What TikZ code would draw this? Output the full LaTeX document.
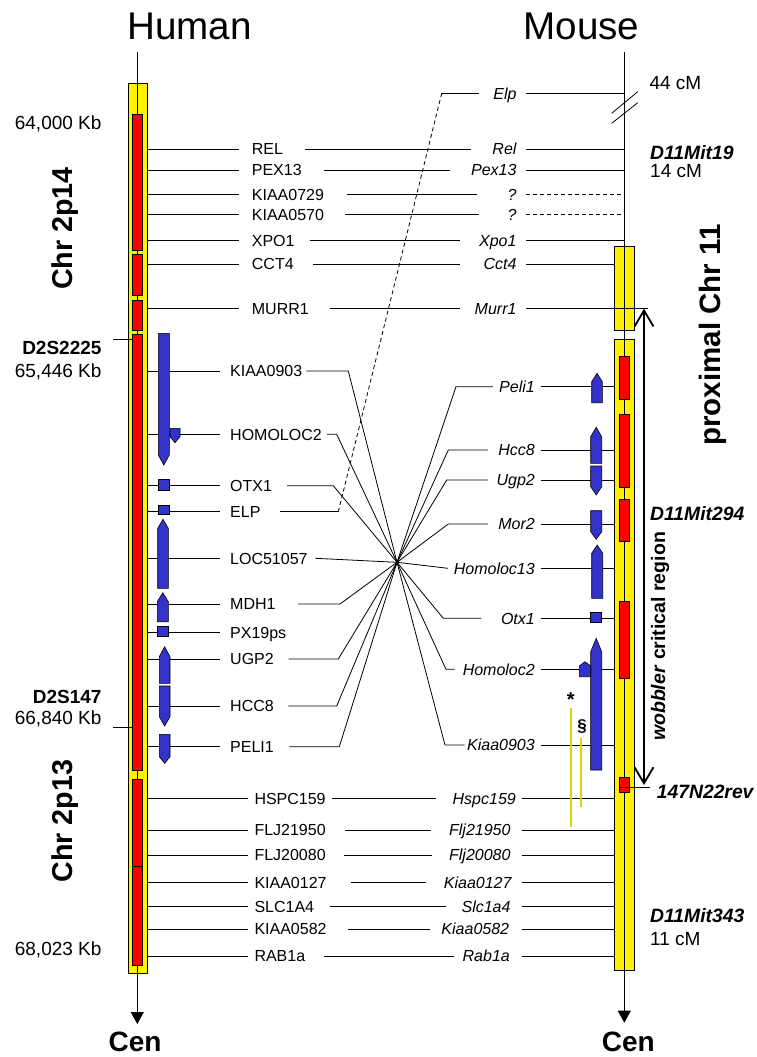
\documentclass[tikz,border=0pt]{standalone}
\usepackage{fontspec}
\setmainfont{Liberation Sans}
\usetikzlibrary{arrows.meta}
\definecolor{genefill}{RGB}{51,51,204}
\definecolor{markyellow}{RGB}{222,212,0}
\newcommand\hleft[2]{\draw[conn] (hchr.east |- #1.west) -- ([xshift=-#2pt]#1.west);}
\newcommand\midline[4]{\draw[conn] ([xshift=#2pt]#1.east) -- ([xshift=-#4pt]#3.west);}
\newcommand\mright[3]{\draw[conn] ([xshift=#2pt]#1.east) -- (#3 |- #1.east);}
\newcommand\geneU[5]{\filldraw[gene] (#1,#5) -- (#1,#4) -- ({(#1+#2)/2},#3) -- (#2,#4) -- (#2,#5) -- cycle;}
\newcommand\geneD[5]{\filldraw[gene] (#1,#3) -- (#2,#3) -- (#2,#4) -- ({(#1+#2)/2},#5) -- (#1,#4) -- cycle;}
\newcommand\geneR[4]{\filldraw[gene] (#1,#2) rectangle (#3,#4);}
\begin{document}
\begin{tikzpicture}[x=1pt,y=-1pt,
  conn/.style={line width=0.8pt, black},
  hlab/.style={inner sep=0pt, anchor=west, text height=11.46pt, text depth=0pt, font=\fontsize{16}{19}\selectfont},
  mlab/.style={hlab, anchor=east, font=\fontsize{16}{19}\selectfont\itshape},
  sidelab/.style={inner sep=0pt, text height=13.6pt, text depth=0pt, font=\fontsize{19}{22}\selectfont},
  sidebold/.style={sidelab, font=\fontsize{19}{22}\selectfont\bfseries},
  sidebi/.style={sidelab, font=\fontsize{19.3}{22}\selectfont\bfseries\itshape},
  ybox/.style={draw=black, fill=yellow, line width=0.8pt, inner sep=0pt},
  rbox/.style={draw=black, fill=red, line width=0.7pt},
  gene/.style={draw=black, fill=genefill, line width=0.6pt},
  ymark/.style={draw=markyellow, line width=2.4pt},
  chrlab/.style={rotate=90, anchor=base, inner sep=0pt, font=\fontsize{28.7}{32}\selectfont\bfseries},
  cenlab/.style={anchor=base, inner sep=0pt, font=\fontsize{28}{32}\selectfont\bfseries},
  title/.style={anchor=base, inner sep=0pt, font=\fontsize{38.6}{44}\selectfont}]
\useasboundingbox (0,0) rectangle (756,1057);

% titles
\node[title] (thuman) at (189.5,39.3) {Human};
\node[title] (tmouse) at (581.5,39.3) {Mouse};

% ---------------- human chromosome ----------------
\node[ybox, minimum width=19.3pt, minimum height=889.4pt, anchor=north west] (hchr) at (127.7,83.3) {};
\coordinate (htop) at (137.3,52);
\coordinate (hbot) at (137.3,1024);
\draw[conn, -{Triangle[length=12pt,width=13pt]}] (htop) -- (hbot);
\draw[conn] (113.3,339) -- (132.3,339);
\draw[conn] (113.3,727.7) -- (132.3,727.7);
\foreach \a/\b in {114/250, 254/295, 300.7/330, 334/770, 779/866.7, 866.7/965}
  \path[rbox] (132.3,\a) rectangle (142.7,\b);
\node[cenlab] (hcen) at (135,1051.7) {Cen};

% human side labels
\node[sidelab, anchor=east] (kb64) at (101.7,122.7) {64,000 Kb};
\node[sidebold, anchor=east] (d2s2225) at (101.7,347.8) {D2S2225};
\node[sidelab, anchor=east] (kb65) at (101.7,370.3) {65,446 Kb};
\node[sidebold, anchor=east] (d2s147) at (101.7,697) {D2S147};
\node[sidelab, anchor=east] (kb66) at (101.7,717.5) {66,840 Kb};
\node[sidelab, anchor=east] (kb68) at (101.7,948.8) {68,023 Kb};
\node[chrlab] (c2p14) at (72,228.5) {Chr 2p14};
\node[chrlab] (c2p13) at (72,821) {Chr 2p13};

% ---------------- mouse chromosome ----------------
\node[ybox, minimum width=20pt, minimum height=84pt, anchor=north west] (mchrA) at (614.3,246) {};
\node[ybox, minimum width=20pt, minimum height=630.7pt, anchor=north west] (mchrB) at (614.3,339.3) {};
\coordinate (mtop) at (624.3,52);
\coordinate (mbot) at (624.3,1022.7);
\draw[conn, -{Triangle[length=12pt,width=13pt]}] (mtop) -- (mbot);
\draw[conn] (611.7,113.3) -- (637.7,91.7);
\draw[conn] (611.7,123.3) -- (637.7,102.7);
\foreach \a/\b in {356/399.3, 414.3/487.3, 499/541, 601.7/678.3, 777.7/792.3}
  \path[rbox] (619.3,\a) rectangle (629.7,\b);
\node[cenlab] (mcen) at (628.3,1051.7) {Cen};

% mouse side labels
\node[sidelab, anchor=west] (cm44) at (649.3,83) {44 cM};
\node[sidebi, anchor=west] (mit19) at (650,152.7) {D11Mit19};
\node[sidelab, anchor=west] (cm14) at (650,170.7) {14 cM};
\node[sidebi, anchor=west] (mit294) at (650,513.3) {D11Mit294};
\node[sidebi, anchor=west] (mit343) at (650,916) {D11Mit343};
\node[sidelab, anchor=west] (cm11) at (650,938.3) {11 cM};
\node[sidebi, anchor=west] (n147) at (656.7,791.7) {147N22rev};
\coordinate (b147a) at (619.3,787);
\coordinate (b147b) at (650,787);
\draw[conn] (b147a) -- (b147b);
\node[chrlab, font=\fontsize{29.5}{32}\selectfont\bfseries] (proxchr) at (720,335) {proximal Chr 11};
\node[rotate=90, anchor=base, inner sep=0pt, font=\fontsize{19.5}{22}\selectfont\bfseries] (wobbler) at (665,636.5) {\textit{wobbler} critical region};
\coordinate (crtop) at (644,308.7);
\coordinate (crbot) at (644,785);
\draw[line width=1.8pt, {Straight Barb[length=16pt,width=19pt]}-{Straight Barb[length=16pt,width=19pt]}] (crtop) -- (crbot);

% ---------------- top rows ----------------
\node[hlab] (hREL) at (251.7,149) {REL};
\node[hlab] (hPEX) at (251.7,170) {PEX13};
\node[hlab] (hK729) at (251.7,194.3) {KIAA0729};
\node[hlab] (hK570) at (251.7,214.3) {KIAA0570};
\node[hlab] (hXPO) at (251.7,240.3) {XPO1};
\node[hlab] (hCCT) at (251.7,264) {CCT4};
\node[hlab] (hMURR) at (251.7,308.7) {MURR1};
\node[mlab] (mElp) at (516.7,93.3) {Elp};
\node[mlab] (mRel) at (516.7,149) {Rel};
\node[mlab] (mPex) at (516.7,170) {Pex13};
\node[mlab] (mQ1) at (516.7,194.3) {?};
\node[mlab] (mQ2) at (516.7,214.3) {?};
\node[mlab] (mXpo) at (516.7,240.3) {Xpo1};
\node[mlab] (mCct) at (516.7,264) {Cct4};
\node[mlab] (mMurr) at (516.7,308.7) {Murr1};
\coordinate (murrend) at (648,308.7);

\hleft{hREL}{12.4} \hleft{hPEX}{12.4} \hleft{hK729}{12.4} \hleft{hK570}{12.4}
\hleft{hXPO}{12.4} \hleft{hCCT}{12.4} \hleft{hMURR}{12.4}
\midline{hREL}{22.2}{mRel}{21}
\midline{hPEX}{21.8}{mPex}{21.3}
\midline{hK729}{23}{mQ1}{30.5}
\midline{hK570}{20.6}{mQ2}{28.5}
\midline{hXPO}{14.9}{mXpo}{19.3}
\midline{hCCT}{19.2}{mCct}{23.8}
\midline{hMURR}{20.7}{mMurr}{14.9}
\mright{mElp}{9.3}{mtop}
\mright{mRel}{9.3}{mtop}
\mright{mPex}{9.3}{mtop}
\draw[conn, dash pattern=on 4pt off 3pt] ([xshift=9.3pt]mQ1.east) -- (mtop |- mQ1.east);
\draw[conn, dash pattern=on 4pt off 3pt] ([xshift=9.3pt]mQ2.east) -- (mtop |- mQ2.east);
\mright{mXpo}{9.3}{mtop}
\mright{mCct}{9.3}{mchrA.west}
\draw[conn] ([xshift=9.3pt]mMurr.east) -- (murrend);

% ---------------- crossing rows ----------------
\node[hlab] (hK903) at (230,371) {KIAA0903};
\node[hlab] (hHOM) at (230,434.3) {HOMOLOC2};
\node[hlab] (hOTX) at (230,485.7) {OTX1};
\node[hlab] (hELP) at (230,511.7) {ELP};
\node[hlab] (hLOC) at (230,558.3) {LOC51057};
\node[hlab] (hMDH) at (230,604) {MDH1};
\node[hlab] (hPX) at (230,632.3) {PX19ps};
\node[hlab] (hUGP) at (230,659) {UGP2};
\node[hlab] (hHCC) at (230,706) {HCC8};
\node[hlab] (hPELI) at (230,746.7) {PELI1};
\foreach \n in {hK903,hHOM,hOTX,hELP,hLOC,hMDH,hPX,hUGP,hHCC,hPELI} {\hleft{\n}{10}}

\node[mlab] (mPeli) at (535,386.7) {Peli1};
\node[mlab] (mHcc) at (535,450) {Hcc8};
\node[mlab] (mUgp) at (535,480) {Ugp2};
\node[mlab] (mMor) at (535,524) {Mor2};
\node[mlab] (mH13) at (535,568.3) {Homoloc13};
\node[mlab] (mOtx) at (535,618.3) {Otx1};
\node[mlab] (mH2) at (535,669.3) {Homoloc2};
\node[mlab] (mK903) at (535,745) {Kiaa0903};
\foreach \n in {mPeli,mHcc,mUgp,mMor,mH13,mOtx,mH2,mK903} {\mright{\n}{5.7}{mchrB.west}}

\coordinate (ctr) at (397,562.3);
\coordinate (bK903) at (348.3,371);   \coordinate (cK903) at (445,745);
\coordinate (bHOM) at (336.7,434.3);  \coordinate (cH2) at (446,669.3);
\coordinate (bOTX) at (333.3,485.7);  \coordinate (cOtx) at (443.3,618.3);
\coordinate (bMDH) at (340,604);      \coordinate (cMor) at (448.3,524);
\coordinate (bUGP) at (338.3,659);    \coordinate (cUgp) at (446.7,480);
\coordinate (bHCC) at (336.7,706);    \coordinate (cHcc) at (448.3,450);
\coordinate (bPELI) at (339.3,746.7); \coordinate (cPeli) at (456,386.7);
\coordinate (elpA) at (338.3,511.7);  \coordinate (elpB) at (441.7,93.3);

\draw[conn] ([xshift=4pt]hK903.east) -- (bK903) -- (ctr) -- (cK903) -- ([xshift=-2.4pt]mK903.west);
\draw[conn] ([xshift=5.1pt]hHOM.east) -- (bHOM) -- (ctr) -- (cH2) -- ([xshift=-8pt]mH2.west);
\draw[conn] ([xshift=14.9pt]hOTX.east) -- (bOTX) -- (ctr) -- (cOtx) -- ([xshift=-19.5pt]mOtx.west);
\draw[conn] ([xshift=7.6pt]hLOC.east) -- (ctr) -- ([xshift=-5.8pt]mH13.west);
\draw[conn] ([xshift=22.4pt]hMDH.east) -- (bMDH) -- (ctr) -- (cMor) -- ([xshift=-10.3pt]mMor.west);
\draw[conn] ([xshift=14.7pt]hUGP.east) -- (bUGP) -- (ctr) -- (cUgp) -- ([xshift=-8.5pt]mUgp.west);
\draw[conn] ([xshift=14.4pt]hHCC.east) -- (bHCC) -- (ctr) -- (cHcc) -- ([xshift=-10.3pt]mHcc.west);
\draw[conn] ([xshift=15.4pt]hPELI.east) -- (bPELI) -- (ctr) -- (cPeli) -- ([xshift=-6.1pt]mPeli.west);
\draw[conn] ([xshift=19.1pt]hELP.east) -- (elpA);
\draw[conn, dash pattern=on 4pt off 3pt] (elpA) -- (elpB);
\draw[conn] (elpB) -- ([xshift=-14.3pt]mElp.west);

% ---------------- lower rows ----------------
\node[hlab] (hHSPC) at (254.3,798.3) {HSPC159};
\node[hlab] (hF219) at (254.3,830) {FLJ21950};
\node[hlab] (hF200) at (254.3,855) {FLJ20080};
\node[hlab] (hK127) at (254.3,882.3) {KIAA0127};
\node[hlab] (hSLC) at (254.3,906.7) {SLC1A4};
\node[hlab] (hK582) at (254.3,929) {KIAA0582};
\node[hlab] (hRAB) at (254.3,956) {RAB1a};
\foreach \n in {hHSPC,hF219,hF200,hK127,hSLC,hK582,hRAB} {\hleft{\n}{6}}
\node[mlab] (mHspc) at (516,798.3) {Hspc159};
\node[mlab] (mF219) at (510.7,830) {Flj21950};
\node[mlab] (mF200) at (510.7,855) {Flj20080};
\node[mlab] (mK127) at (511.7,882.3) {Kiaa0127};
\node[mlab] (mSlc) at (510.7,906.7) {Slc1a4};
\node[mlab] (mK582) at (509.3,929) {Kiaa0582};
\node[mlab] (mRab) at (510,956) {Rab1a};
\midline{hHSPC}{6.3}{mHspc}{16.9}
\midline{hF219}{19.5}{mF219}{17.6}
\midline{hF200}{17.8}{mF200}{17}
\midline{hK127}{24.4}{mK127}{18.1}
\midline{hSLC}{15.4}{mSlc}{15.1}
\midline{hK582}{21}{mK582}{11.7}
\midline{hRAB}{18.3}{mRab}{8.9}
\mright{mHspc}{5.7}{mchrB.west}
\mright{mF219}{11}{mchrB.west}
\mright{mF200}{11}{mchrB.west}
\mright{mK127}{10}{mchrB.west}
\mright{mSlc}{11}{mchrB.west}
\mright{mK582}{12.4}{mchrB.west}
\mright{mRab}{11.7}{mchrB.west}

% ---------------- genes (human) ----------------
\geneD{158.3}{169.3}{333.3}{455}{465}
\geneD{170}{180}{428.3}{436.7}{442.7}
\geneR{158.3}{479.3}{169.3}{490.7}
\geneR{158.3}{505}{169.3}{514.3}
\geneU{157.7}{168.3}{519.3}{528.3}{588.3}
\geneU{157.3}{168.3}{592.7}{601.7}{621.7}
\geneR{157.7}{626.7}{168.3}{636.7}
\geneU{159.3}{170}{646.7}{656.7}{683.3}
\geneD{159.3}{170}{686}{716.7}{726}
\geneD{159.3}{170}{734.3}{756.7}{763.3}

% ---------------- genes (mouse) ----------------
\geneU{591.7}{602.3}{373.3}{381.7}{402.7}
\geneU{590.7}{601.7}{427.3}{436.7}{463.3}
\geneD{590.7}{601.7}{466}{486.7}{495}
\geneD{590.7}{601.7}{510.7}{531.7}{539.3}
\geneU{591.7}{602.7}{545}{553.3}{598.3}
\geneR{590.7}{612.7}{601.7}{622.7}
\geneU{590.7}{601.7}{638.3}{651.7}{770}
\geneU{579.3}{590.7}{661.7}{666}{676.7}

% yellow marks
\coordinate (starA) at (570.7,708.3); \coordinate (starB) at (570.7,826.7);
\coordinate (secA) at (580.7,738.3);  \coordinate (secB) at (580.7,806.7);
\draw[ymark] (starA) -- (starB);
\draw[ymark] (secA) -- (secB);
\node[inner sep=0pt, font=\fontsize{20}{22}\selectfont\bfseries] (star) at (570.7,700) {*};
\node[inner sep=0pt, font=\fontsize{17}{19}\selectfont\bfseries] (sect) at (582,726.7) {§};
\end{tikzpicture}
\end{document}
